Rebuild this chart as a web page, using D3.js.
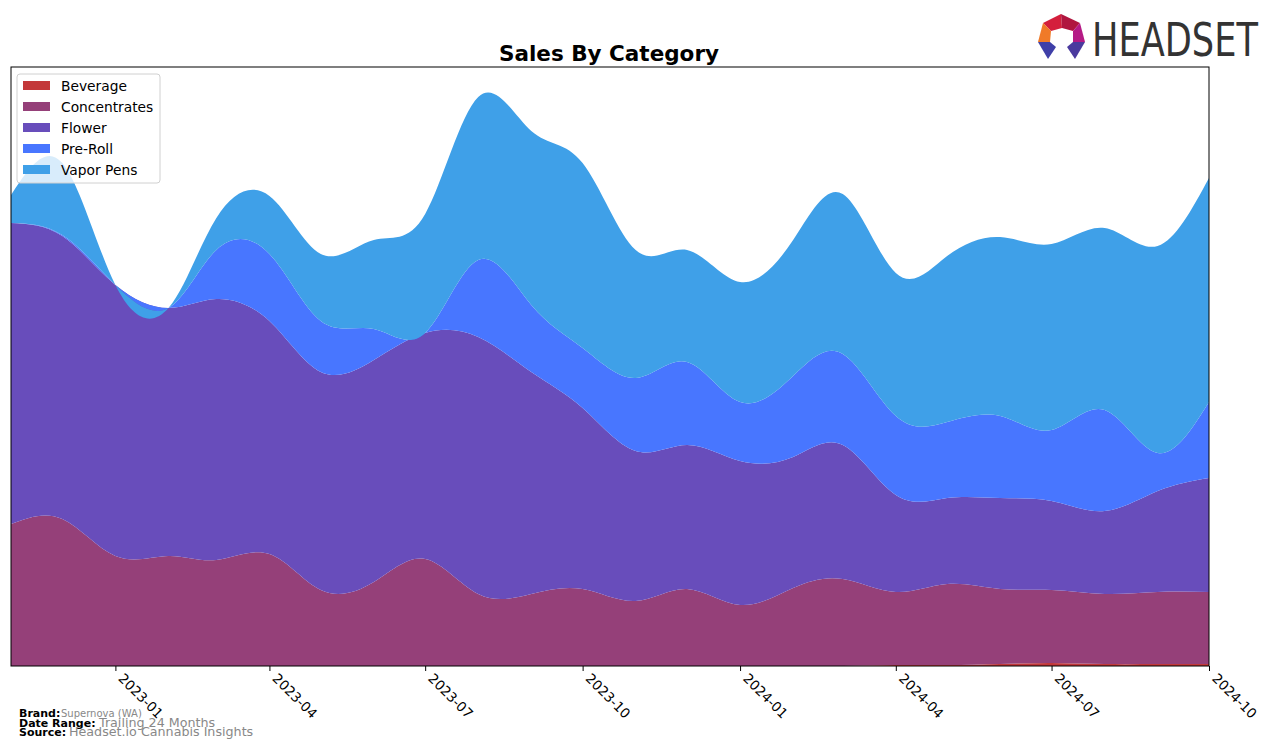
<!DOCTYPE html>
<html lang="en">
<head>
<meta charset="utf-8">
<script src="https://d3js.org/d3.v7.min.js"></script>
<style>
  body { margin: 0; background: #fff; }
  text { font-family: "DejaVu Sans", sans-serif; }
</style>
</head>
<body>
<script>
var width = 1276;
var height = 748;

// monthly data, Nov 2022 .. Oct 2024 (relative sales units)
var months = ["2022-11","2022-12","2023-01","2023-02","2023-03","2023-04","2023-05","2023-06",
              "2023-07","2023-08","2023-09","2023-10","2023-11","2023-12","2024-01","2024-02",
              "2024-03","2024-04","2024-05","2024-06","2024-07","2024-08","2024-09","2024-10"];
var categories = ["Beverage", "Concentrates", "Flower", "Pre-Roll", "Vapor Pens"];
var beverage     = [0,0,0,0,0,0,0,0,0,0,0,0,0,0,0,0,0,1,1,2,3,2,2,2];
var concentrates = [142,147,110,110,106,112,76,84,107,72,72,77,65,77,61,78,87,73,81,75,73,70,72,72];
var flower       = [301,283,271,248,261,233,218,222,226,257,222,181,150,144,144,131,134,97,86,91,89,83,101,114];
var preRoll      = [0,1,0,0,49,67,51,31,0,77,67,60,73,83,59,81,91,79,76,82,71,101,38,76];
var vaporPens    = [28,72,0,0,32,58,67,89,119,163,174,185,128,112,120,136,160,143,166,179,186,182,207,224];
var tickLabels   = ["2023-01","2023-04","2023-07","2023-10","2024-01","2024-04","2024-07","2024-10"];
var colours      = ["#c3383a", "#954079", "#684dbb", "#4876ff", "#3fa0e8"];

var parse = d3.timeParse("%Y-%m");
var table = months.map(function(m, i) {
    return { date: parse(m), "Beverage": beverage[i], "Concentrates": concentrates[i],
             "Flower": flower[i], "Pre-Roll": preRoll[i], "Vapor Pens": vaporPens[i] };
});

var plotLeft = 11, plotRight = 1209, plotTop = 67, plotBottom = 666;

var svg = d3.select("body").append("svg")
    .attr("width", width)
    .attr("height", height);

var x = d3.scaleTime()
    .domain([parse(months[0]), parse(months[months.length - 1])])
    .range([plotLeft, plotRight]);
var y = d3.scaleLinear()
    .domain([0, 599])
    .range([plotBottom, plotTop]);

var stack = d3.stack().keys(categories);
var layers = stack(table);

var area = d3.area()
    .curve(d3.curveNatural)
    .x(function(d) { return x(d.data.date); })
    .y0(function(d) { return y(d[0]); })
    .y1(function(d) { return y(d[1]); });

svg.append("clipPath").attr("id", "plotclip")
   .append("rect")
   .attr("x", plotLeft).attr("y", plotTop)
   .attr("width", plotRight - plotLeft).attr("height", plotBottom - plotTop);

svg.append("g")
   .attr("clip-path", "url(#plotclip)")
   .selectAll("path")
   .data(layers)
   .enter().append("path")
   .attr("d", area)
   .attr("fill", function(d, i) { return colours[i]; });

// frame
svg.append("rect")
   .attr("x", plotLeft).attr("y", plotTop)
   .attr("width", plotRight - plotLeft).attr("height", plotBottom - plotTop)
   .attr("fill", "none").attr("stroke", "#000").attr("stroke-width", 1);

// x axis
var ticks = tickLabels.map(parse);
var xAxis = d3.axisBottom(x)
    .tickValues(ticks)
    .tickSize(5)
    .tickFormat(d3.timeFormat("%Y-%m"));
var gx = svg.append("g")
    .attr("transform", "translate(0," + plotBottom + ")")
    .call(xAxis);
gx.select(".domain").remove();
gx.selectAll(".tick line").attr("stroke", "#000");
gx.selectAll(".tick text")
  .attr("font-family", "DejaVu Sans")
  .attr("font-size", 13.5)
  .attr("fill", "#000")
  .attr("text-anchor", "start")
  .attr("transform", "translate(5,10) rotate(45)")
  .attr("dy", "0.35em")
  .attr("y", 0)
  .attr("x", 0);

// title
svg.append("text")
   .attr("x", 609).attr("y", 61)
   .attr("text-anchor", "middle")
   .attr("font-size", 21.5).attr("font-weight", "bold")
   .text("Sales By Category");

// legend
var legend = svg.append("g");
legend.append("rect")
   .attr("x", 17).attr("y", 74).attr("width", 143).attr("height", 109)
   .attr("rx", 3)
   .attr("fill", "#fff").attr("fill-opacity", 0.8)
   .attr("stroke", "#d0d0d0");
categories.forEach(function(c, i) {
    legend.append("rect")
       .attr("x", 23).attr("y", 81 + i * 21)
       .attr("width", 27).attr("height", 9)
       .attr("fill", colours[i]);
    legend.append("text")
       .attr("x", 61).attr("y", 91 + i * 21)
       .attr("font-size", 13.8)
       .text(c);
});

// footer
var foot = [["Brand:", "Supernova (WA)", 61, 10, 717],
            ["Date Range:", "Trailing 24 Months", 99, 12.7, 727],
            ["Source:", "Headset.io Cannabis Insights", 69, 12.7, 736]];
foot.forEach(function(f) {
    svg.append("text").attr("x", 19).attr("y", f[4])
       .attr("font-size", 11).attr("font-weight", "bold").text(f[0]);
    svg.append("text").attr("x", f[2]).attr("y", f[4])
       .attr("font-size", f[3]).attr("fill", "#888").text(f[1]);
});

// logo
var logo = svg.append("g");
var pieces = [
    [[1043,23],[1061,14],[1062,28],[1051,31], "#d41f3c"],
    [[1061,14],[1080,23],[1073,31],[1062,28], "#b0163f"],
    [[1043,23],[1051,31],[1050,42],[1038,42], "#f07a28"],
    [[1080,23],[1085,42],[1073,42],[1073,31], "#b51a85"],
    [[1038,42],[1050,42],[1056,47],[1048,59], "#3f3fa8"],
    [[1085,42],[1073,42],[1067,47],[1075,59], "#4a3a9e"]
];
pieces.forEach(function(p) {
    logo.append("polygon")
       .attr("points", p.slice(0, 4).map(function(q) { return q.join(","); }).join(" "))
       .attr("fill", p[4]);
});
var logoText = logo.append("text")
   .attr("x", 0).attr("y", 0)
   .attr("font-family", "DejaVu Sans Condensed, DejaVu Sans")
   .attr("font-size", 46)
   .attr("fill", "#333")
   .text("HEADSET");
var natural = logoText.node().getComputedTextLength();
logoText.attr("transform", "translate(1092,56) scale(" + (166 / natural) + ",1)");
</script>
</body>
</html>
